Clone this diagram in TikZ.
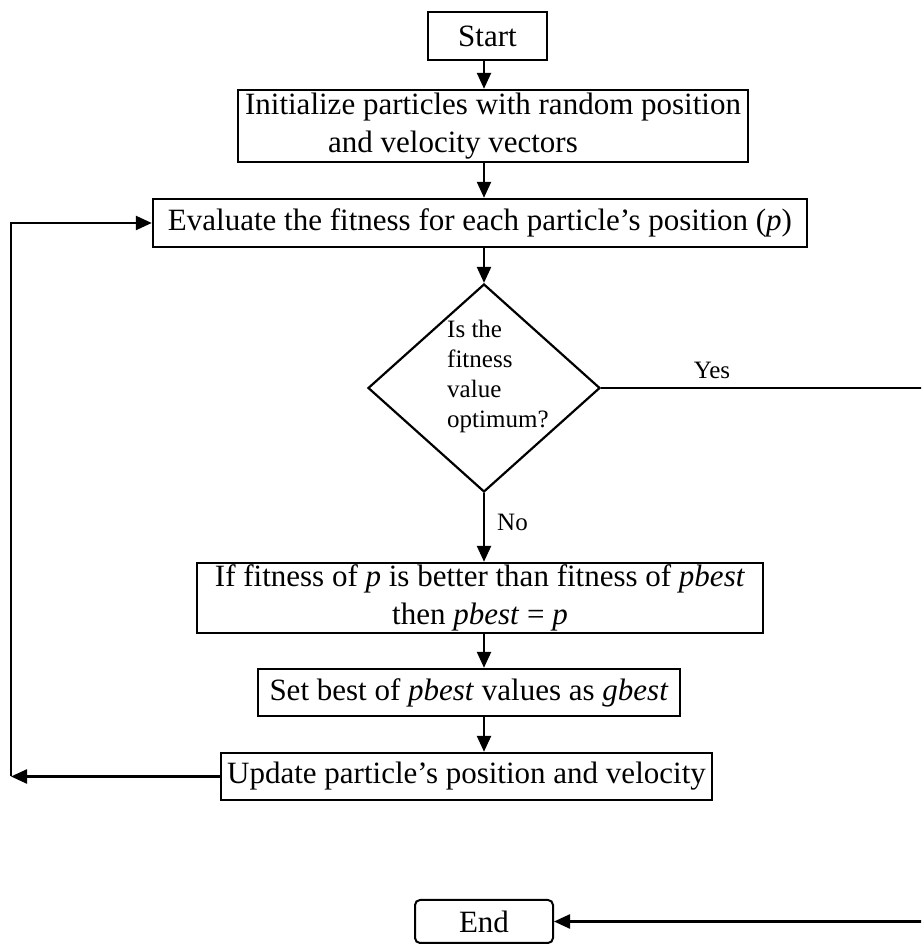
\documentclass[tikz,border=0pt]{standalone}
\usepackage{fontspec}
\setmainfont{Liberation Serif}
\usetikzlibrary{shapes.geometric,arrows.meta}
\begin{document}
\begin{tikzpicture}[x=1pt,y=1pt,
 box/.style={draw, line width=2.4pt, inner sep=0pt, font=\fontsize{31}{38}\selectfont, align=center},
 lbl/.style={font=\fontsize{25}{30}\selectfont, inner sep=0pt},
 arr/.style={line width=2.4pt, -{Triangle[length=16pt,width=14pt]}}]
\clip (0,0) rectangle (921,944);
\node[box, minimum width=119pt, minimum height=48pt] (start) at (487.5,908) {Start};
\node[box, minimum width=510pt, minimum height=72pt] (init) at (493,818) {Initialize particles with random position\\and velocity vectors\hspace*{80pt}};
\node[box, minimum width=654pt, minimum height=48pt] (eval) at (480,721) {Evaluate the fitness for each particle’s position (\textit{p})};
\node[draw, diamond, line width=2.2pt, minimum width=232pt, minimum height=208pt, inner sep=0pt] (dia) at (484,556) {};
\node[lbl, anchor=west, align=left] (dtext) at (447,568) {Is the\\fitness\\value\\optimum?};
\node[box, minimum width=566pt, minimum height=70pt] (ifb) at (480,346) {If fitness of \textit{p} is better than fitness of \textit{pbest}\\then \textit{pbest} = \textit{p}};
\node[box, minimum width=422pt, minimum height=47pt] (set) at (469,251.5) {Set best of \textit{pbest} values as \textit{gbest}};
\node[box, minimum width=491pt, minimum height=47pt] (update) at (466.5,167.5) {Update particle’s position and velocity};
\node[box, line width=2pt, rounded corners=5pt, minimum width=138pt, minimum height=43pt] (end) at (484,22.5) {End};
\node[lbl] (yes) at (712,574) {Yes};
\node[lbl, anchor=west] (no) at (497,422) {No};
\coordinate (yr) at (930,556);
\coordinate (lb) at (11,167.5);
\draw[arr] (start.south -| dia.north) -- (init.north -| dia.north);
\draw[arr] (init.south -| dia.north) -- (eval.north -| dia.north);
\draw[arr] (eval.south -| dia.north) -- (dia.north);
\draw[arr] (dia.south) -- (ifb.north -| dia.south);
\draw[arr] (ifb.south -| dia.north) -- (set.north -| dia.north);
\draw[arr] (set.south -| dia.north) -- (update.north -| dia.north);
\draw[arr] (update.west) -- (lb);
\draw[arr] (lb) |- (eval.west);
\draw[arr] (dia.east) -- (yr) |- (end.east);
\end{tikzpicture}
\end{document}
